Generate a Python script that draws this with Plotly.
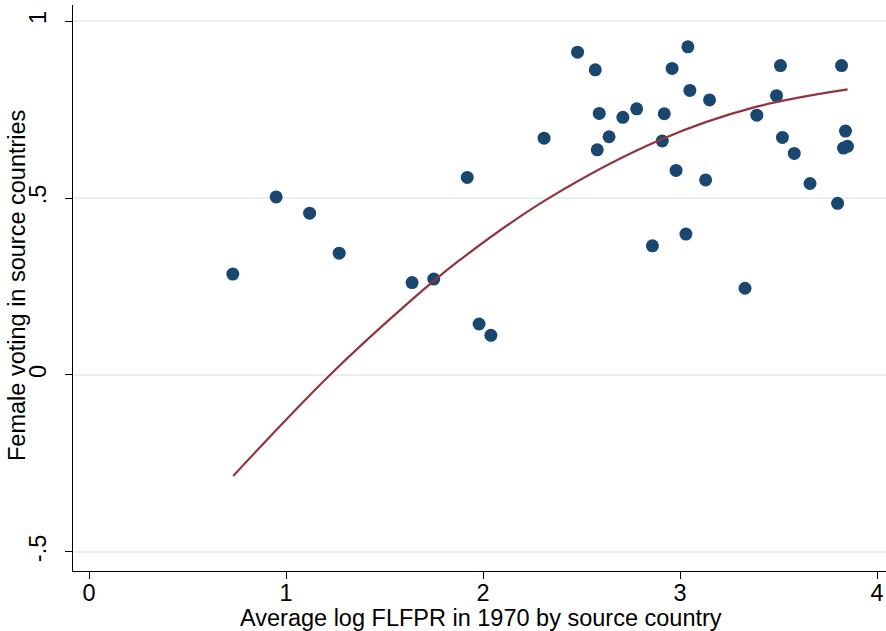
import plotly.graph_objects as go

# Average log FLFPR in 1970 by source country
flfpr = [0.73, 0.95, 1.12, 1.27, 1.64, 1.75, 1.92, 1.98, 2.04,
         2.31, 2.48, 2.57, 2.59, 2.58, 2.64, 2.71, 2.78, 2.86, 2.92,
         2.91, 2.96, 2.98, 3.04, 3.03, 3.05, 3.13, 3.15, 3.33, 3.39,
         3.49, 3.51, 3.52, 3.58, 3.66, 3.80, 3.82, 3.84, 3.83, 3.85]
# Female voting in source countries
voting = [0.285, 0.503, 0.457, 0.344, 0.261, 0.271, 0.558, 0.144, 0.112,
          0.669, 0.912, 0.862, 0.739, 0.636, 0.673, 0.728, 0.752, 0.365, 0.738,
          0.661, 0.866, 0.578, 0.927, 0.398, 0.804, 0.551, 0.777, 0.245, 0.734,
          0.789, 0.874, 0.671, 0.626, 0.541, 0.485, 0.874, 0.689, 0.641, 0.646]

# quadratic fit line
fit_x = [0.732, 1.223, 1.638, 1.883, 2.332, 2.898, 3.389, 3.851]
fit_y = [-0.285, 0.000, 0.212, 0.325, 0.499, 0.664, 0.758, 0.807]

xticks = [0, 1, 2, 3, 4]
yticks = [-0.5, 0, 0.5, 1]
yticklabels = ["-.5", "0", ".5", "1"]

x_title = "Average log FLFPR in 1970 by source country"
y_title = "Female voting in source countries"

fig = go.Figure()
fig.add_trace(go.Scatter(x=flfpr, y=voting, mode="markers",
                         marker=dict(size=13, color="#1a476f"),
                         showlegend=False))
fig.add_trace(go.Scatter(x=fit_x, y=fit_y, mode="lines",
                         line=dict(color="#90353b", width=2.2, shape="spline", smoothing=1.0),
                         showlegend=False))

fam = "Liberation Sans, Arial, sans-serif"
tickfont = dict(family=fam, size=23.5, color="black")
titlefont = dict(family=fam, size=23.5, color="black")

fig.update_layout(
    width=886, height=631,
    margin=dict(l=73, r=0, t=5, b=60, autoexpand=False),
    paper_bgcolor="white", plot_bgcolor="white",
    font=titlefont,
    xaxis=dict(range=[-0.0812, 4.0457], tickvals=xticks,
               ticks="outside", ticklen=7, tickcolor="black", tickwidth=1,
               showline=True, linecolor="black", linewidth=1,
               showgrid=False, zeroline=False, automargin=False,
               tickfont=tickfont, ticklabelstandoff=-6),
    yaxis=dict(range=[-0.5537, 1.0452], tickvals=yticks, ticktext=yticklabels,
               tickangle=-90,
               ticks="outside", ticklen=7, tickcolor="black", tickwidth=1,
               showline=True, linecolor="black", linewidth=1,
               showgrid=True, gridcolor="#e9eff1", gridwidth=1.5,
               zeroline=False, automargin=False,
               tickfont=tickfont, ticklabelstandoff=10),
    annotations=[
        dict(text=x_title, xref="paper", yref="paper",
             x=(481 - 73) / 813, y=-(618 - 571) / 566,
             xanchor="center", yanchor="middle", showarrow=False, font=titlefont),
        dict(text=y_title, xref="paper", yref="paper",
             x=-(73 - 17) / 813, y=(571 - 286) / 566, textangle=-90,
             xanchor="center", yanchor="middle", showarrow=False, font=titlefont),
    ],
)
fig.write_html("out.html", config={"displayModeBar": False},
               post_script="document.body.style.margin='0';document.body.style.padding='0';")
